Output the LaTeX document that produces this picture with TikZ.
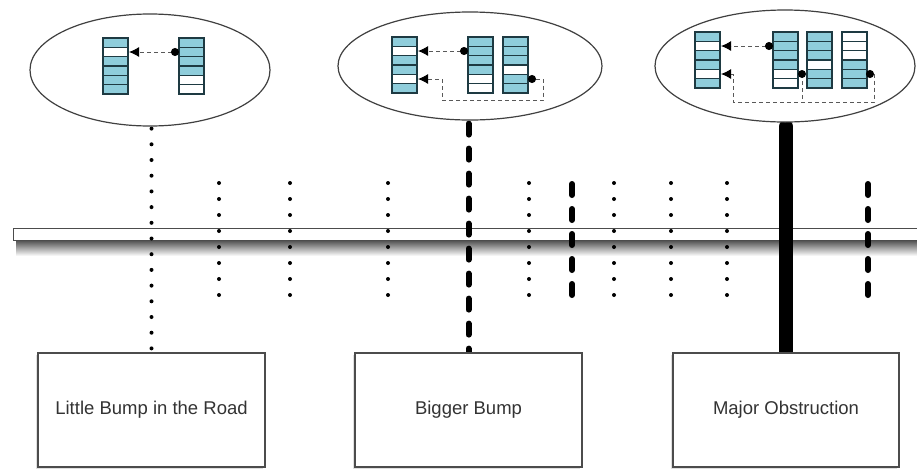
\documentclass[tikz,border=0pt]{standalone}
\usepackage{fontspec}
\setmainfont{Liberation Sans}
\usetikzlibrary{shapes.geometric,arrows.meta,shadows}
\pgfdeclarelayer{bg}
\pgfsetlayers{bg,main}
\definecolor{cb}{HTML}{8FCDDB}
\definecolor{cw}{HTML}{FFFFFF}
\definecolor{celledge}{HTML}{1E3A42}
\definecolor{txt}{HTML}{333333}
\pgfdeclareradialshading{bubshade}{\pgfpoint{0bp}{0bp}}{color(0bp)=(white); color(34bp)=(white); color(50bp)=(black!12); color(70bp)=(black!12)}
\newcommand\cellstack[3]{%
  \foreach \cc [count=\ii from 0] in {#3}{%
    \filldraw[cellbox,fill=\cc] (#1,{#2+\ii*9.33}) rectangle ({#1+25},{#2+(\ii+1)*9.33});}}
\begin{document}
\begin{tikzpicture}[x=1pt,y=-1pt,
  cellbox/.style={draw=celledge,line width=1.4pt},
  bubble/.style={ellipse,draw=black!75,line width=1.2pt,shading=bubshade,inner sep=0pt},
  labelbox/.style={rectangle,draw=black!70,line width=1.2pt,fill=white,inner sep=0pt,
    drop shadow={shadow xshift=-2pt,shadow yshift=-2pt,opacity=0.25},
    font=\fontsize{18.5}{22}\selectfont,text=txt},
  arr/.style={dash pattern=on 4pt off 3pt,line width=1pt,draw=black!65,
    {Circle[length=8pt,black]}-{Latex[length=10pt,width=10pt,black]}},
  dotline/.style={line width=4pt,line cap=round,dash pattern=on 0pt off 15.7pt},
  dotshort/.style={line width=4pt,line cap=round,dash pattern=on 0pt off 16pt},
  dashthick/.style={line width=6pt,line cap=round,dash pattern=on 11pt off 14pt},
  solidthick/.style={line width=14pt,line cap=round}]
\useasboundingbox (0,0) rectangle (917,469);

% bubbles
\node[bubble,minimum width=240pt,minimum height=112pt] (e1) at (150,70) {};
\node[bubble,minimum width=264pt,minimum height=108pt] (e2) at (470,66) {};
\node[bubble,minimum width=260pt,minimum height=112pt] (e3) at (785,66) {};

% stacks bubble 1
\cellstack{103}{38}{cb,cw,cb,cb,cb,cb}
\cellstack{179}{38}{cb,cb,cb,cb,cw,cw}
\draw[arr] (179,52) -- (129,52);

% stacks bubble 2
\cellstack{392}{37}{cb,cw,cb,cb,cw,cb}
\cellstack{468}{37}{cb,cb,cb,cb,cw,cw}
\cellstack{503}{37}{cb,cb,cb,cw,cb,cb}
\draw[arr] (468,51) -- (418,51);
\draw[arr] (528,79) -- (543,79) -- (543,100) -- (442,100) -- (442,79) -- (418,79);

% stacks bubble 3
\cellstack{695}{32}{cb,cw,cb,cb,cw,cb}
\cellstack{773}{32}{cb,cb,cb,cb,cw,cw}
\cellstack{807}{32}{cb,cb,cb,cw,cb,cb}
\cellstack{842}{32}{cw,cw,cw,cb,cb,cb}
\draw[arr] (773,46) -- (721,46);
\draw[arr] (866,74) -- (874,74) -- (874,102) -- (733,102) -- (733,74) -- (721,74);
\draw[arr,-] (802,74) -- (802,102);
\fill[black] (802,74) circle (4pt);

% boxes
\node[labelbox,minimum width=227pt,minimum height=114pt] (b1) at (151.5,410) {Little Bump in the Road};
\node[labelbox,minimum width=227pt,minimum height=114pt] (b2) at (468.5,410) {Bigger Bump};
\node[labelbox,minimum width=226pt,minimum height=114pt] (b3) at (786,410) {Major Obstruction};

\begin{pgfonlayer}{bg}
\fill[white] (0,0) rectangle (917,469);
% road
\shade[top color=black!70,bottom color=white] (16,240) rectangle (930,256);
\filldraw[fill=white,draw=black!70,line width=1pt] (13,228) rectangle (930,240);
% short markers
\foreach \x in {219,290,388,529,614,671,727}
  \draw[dotshort] (\x,183) -- (\x,296);
\foreach \x in {572,868}
  \draw[dashthick] (\x,184) -- (\x,296);
% connectors bubble -> box
\draw[dotline] (b1.north |- e1.south) ++(0,2) -- (b1.north);
\draw[dashthick] (b2.north |- e2.south) ++(0,3) -- (b2.north);
\draw[solidthick] (b3.north |- e3.south) ++(0,4) -- (b3.north);
\end{pgfonlayer}
\end{tikzpicture}
\end{document}
